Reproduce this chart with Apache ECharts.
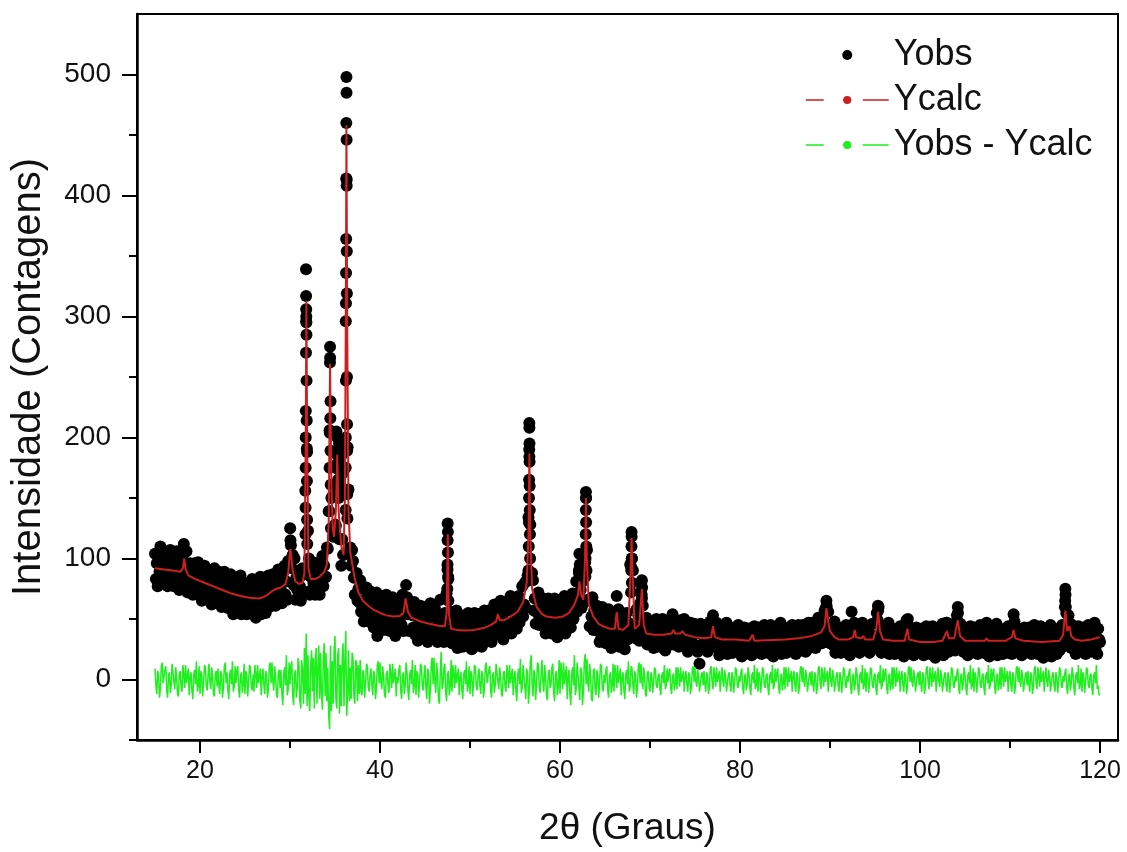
<!DOCTYPE html>
<html><head><meta charset="utf-8">
<script src="https://cdn.jsdelivr.net/npm/echarts@6/dist/echarts.min.js"></script>
<style>html,body{margin:0;padding:0;background:#fff}#c{width:1127px;height:852px}</style>
</head><body><div id="c"></div>
<script>
const FONT = '"Liberation Sans", Arial, sans-serif';
const xTickMajor = [20, 40, 60, 80, 100, 120];
const xTickMinor = [30, 50, 70, 90, 110];
const yTickMajor = [0, 100, 200, 300, 400, 500];
const yTickMinor = [-50, 50, 150, 250, 350, 450];

// Yobs: scan from 15° in 0.1° steps
const yobsStart = 15, yobsStep = 0.1;
const yobs = [
104,83,96,77,100,89,110,81,98,87,
84,105,89,100,77,96,81,107,87,93,
93,77,101,84,106,81,91,74,99,88,
79,99,112,105,83,106,72,90,79,96,
93,82,70,90,96,73,86,76,97,70,
76,91,65,83,72,94,77,87,66,91,
90,69,81,62,85,73,92,65,82,71,
68,89,73,83,60,79,64,89,69,74,
75,59,82,65,87,62,71,54,80,69,
57,76,65,82,61,86,54,73,62,79,
77,66,54,74,80,58,71,61,83,56,
62,77,51,69,58,81,64,85,54,80,
80,59,73,55,78,67,86,60,78,67,
66,87,72,83,61,80,65,91,72,78,
79,63,88,71,94,70,81,66,98,94,
93,111,92,103,78,100,66,84,74,90,
88,77,65,86,92,73,91,156,296,188,
123,100,70,85,74,97,80,91,70,96,
96,75,89,70,94,83,102,77,94,84,
85,109,108,139,206,230,150,151,118,120,
128,127,186,174,156,116,116,94,116,103,
103,157,296,413,192,157,105,109,94,107,
98,84,70,85,88,65,75,64,82,56,
61,75,48,66,54,76,59,69,48,73,
72,50,62,43,65,54,72,36,62,51,
48,69,53,64,41,59,44,70,50,56,
56,40,64,47,68,43,53,36,62,51,
40,59,48,66,45,70,40,63,59,78,
68,54,40,58,63,40,53,43,64,37,
43,58,32,50,39,61,45,55,34,60,
58,37,50,31,54,43,63,35,52,41,
38,59,43,54,31,50,34,66,40,46,
47,31,55,39,71,91,83,34,56,41,
30,49,38,54,33,57,26,45,35,52,
50,39,27,47,53,31,44,34,55,29,
36,51,25,43,32,55,38,49,28,54,
54,33,46,27,50,39,57,31,49,38,
36,57,41,53,31,49,36,62,43,50,
53,41,62,43,65,40,50,33,59,48,
38,57,47,64,44,69,38,57,48,65,
64,53,42,62,69,47,62,53,77,52,
62,80,59,82,86,134,184,128,82,88,
82,57,67,46,68,55,72,45,61,49,
47,67,51,61,38,57,42,67,47,53,
54,38,62,45,67,42,52,35,61,50,
39,58,48,65,44,69,38,57,48,65,
64,54,43,64,71,50,65,57,81,56,
65,88,63,74,59,81,63,88,97,150,
107,66,66,44,65,52,68,41,57,44,
41,61,44,55,31,50,35,60,40,45,
46,30,54,37,58,33,43,26,52,41,
30,49,44,69,37,58,27,45,35,52,
50,39,25,48,55,33,47,38,95,93,
100,90,42,44,34,58,41,53,32,63,
72,67,61,32,48,36,51,29,42,33,
31,48,35,44,26,41,29,50,34,39,
39,27,46,32,50,30,38,24,45,36,
28,44,35,48,33,54,29,43,33,47,
45,36,27,43,49,31,42,33,50,27,
33,44,23,38,29,47,34,42,25,46,
45,28,38,23,41,13,46,25,39,30,
28,45,32,41,23,39,27,48,32,40,
46,30,44,29,47,26,34,20,41,32,
23,39,30,43,27,47,21,36,28,42,
40,31,22,38,43,25,35,27,45,23,
28,40,19,34,25,43,30,38,22,42,
42,25,35,20,43,30,44,23,37,28,
26,43,30,39,21,36,24,45,29,34,
34,22,41,27,45,25,33,19,40,31,
23,39,30,43,27,47,21,36,28,42,
40,31,22,38,43,25,36,27,45,23,
30,42,21,36,27,45,33,41,24,44,
45,28,38,23,41,33,47,26,40,31,
30,47,35,44,26,42,30,51,35,41,
41,30,50,37,57,45,60,40,56,43,
30,44,33,45,28,48,22,37,28,42,
40,31,22,38,43,25,35,27,45,23,
29,41,20,35,56,45,33,47,26,45,
45,27,37,22,40,32,47,27,39,29,
27,44,31,40,22,37,25,46,30,35,
36,28,55,49,60,36,39,22,42,32,
23,39,30,43,27,47,21,36,28,42,
39,30,21,37,42,24,34,26,44,22,
28,40,19,35,27,49,40,44,23,43,
42,25,35,20,38,30,43,23,37,27,
25,42,29,38,20,35,23,44,28,33,
33,21,40,26,44,24,32,18,39,30,
22,38,29,42,26,46,20,37,31,47,
47,35,23,39,44,26,36,28,46,24,
36,53,36,45,30,46,32,39,23,42,
42,25,35,20,38,30,44,23,37,28,
26,43,30,39,21,36,24,45,29,34,
34,22,41,27,47,25,33,19,40,31,
22,38,29,42,26,46,20,35,27,41,
39,30,21,37,42,24,34,26,44,22,
29,41,21,37,34,48,32,39,23,42,
42,25,35,20,38,30,43,23,36,27,
26,43,30,39,21,36,24,45,29,34,
33,21,40,26,44,24,32,18,39,30,
21,37,28,41,25,45,19,34,26,40,
39,30,21,37,42,24,34,27,45,27,
41,60,42,45,34,53,42,46,26,45,
44,26,36,21,39,30,44,23,37,28,
26,43,30,39,21,36,24,45,29,34,
35,23,42,28,47,26,35,21,42,33,
31
];

// extra Yobs points stacked along the sharp reflections
const yobsPeakX = [
30.02,30.05,
31.78,31.79,31.80,31.81,31.82,31.83,31.78,31.84,31.76,31.86,31.75,31.87,31.74,31.88,31.73,31.90,31.72,31.92,
34.45,34.46,34.44,34.48,34.42,34.50,34.40,34.52,34.38,34.55,
35.15,35.25,35.30,35.20,35.35,35.10,35.40,35.45,35.50,35.60,35.70,35.80,35.90,35.55,
36.27,36.28,36.26,36.29,36.25,36.30,36.24,36.31,36.23,36.32,36.22,36.33,36.21,36.34,36.20,36.35,36.19,36.36,36.18,36.38,
47.52,47.54,47.51,47.55,47.50,47.57,47.48,47.60,
56.59,56.60,56.61,56.58,56.62,56.57,56.63,56.56,56.64,56.55,56.66,56.53,56.68,56.50,
62.15,62.20,62.10,
62.88,62.89,62.87,62.90,62.86,62.92,62.84,62.94,62.82,
67.95,67.96,67.94,67.97,67.92,67.99,67.90,
69.10,69.12,69.08,
77.00,77.02,
89.60,89.62,89.58,
95.33,95.35,
98.65,
104.20,104.22,
110.40,
116.15,116.17,116.13,116.20,116.25
];
const yobsPeakY = [
125,115,
339,317,306,300,295,285,270,247,222,214,200,191,175,164,142,132,120,112,
275,266,262,216,204,189,175,161,139,125,
205,200,189,178,165,160,150,195,180,198,185,170,155,160,
498,485,460,446,414,408,364,354,336,319,311,250,247,211,200,189,175,153,140,133,
129,122,115,105,95,85,75,65,
212,208,195,190,180,165,160,150,140,130,120,110,100,90,
104,95,90,
155,150,140,130,120,110,100,90,85,
122,118,110,100,90,80,72,
82,76,70,
53,48,
65,61,57,
61,57,
50,
60,55,
54,
75,70,65,60,55
];

// Ycalc: refined profile
const ycalcX = [15.0,16.0,17.0,17.8,18.1,18.25,18.4,18.7,19.5,20.5,21.5,22.5,23.5,24.5,25.5,26.5,27.0,27.5,28.0,28.5,29.0,29.5,29.8,30.0,30.05,30.3,30.6,31.0,31.4,31.6,31.75,31.82,31.9,32.05,32.3,32.8,33.3,33.8,34.1,34.3,34.45,34.6,34.75,34.9,35.1,35.25,35.4,35.7,35.95,36.1,36.2,36.27,36.35,36.5,36.7,36.9,37.2,37.6,38.1,38.7,39.2,40.0,40.7,41.5,42.2,42.6,42.85,43.1,43.5,44.5,45.5,46.5,47.2,47.4,47.53,47.65,47.9,48.5,49.5,50.5,51.5,52.3,52.9,53.1,53.3,53.8,54.5,55.3,55.9,56.3,56.5,56.6,56.7,56.9,57.4,58.0,58.5,59.5,60.3,61.0,61.6,62.0,62.15,62.35,62.6,62.78,62.88,62.98,63.2,63.7,64.3,64.8,65.5,66.1,66.3,66.5,67.0,67.6,67.8,67.95,68.1,68.3,68.8,69.1,69.3,69.6,70.5,71.5,72.4,72.6,72.8,73.4,73.6,73.9,75.0,76.0,76.8,77.0,77.2,78.0,79.5,81.0,81.4,81.6,83.0,85.0,86.5,88.0,89.0,89.4,89.6,89.8,90.0,90.5,91.0,92.0,92.6,92.75,92.9,93.5,93.7,93.9,94.8,95.15,95.35,95.55,95.9,97.0,98.3,98.6,98.8,100.0,101.5,102.5,102.8,103.0,103.2,103.8,104.2,104.45,105.0,107.2,107.4,107.6,109.5,110.2,110.4,110.6,111.5,113.5,115.5,115.9,116.15,116.35,116.6,116.8,117.2,118.0,119.0,120.0];
const ycalcY = [92,91,90,89,92,100,91,86,83,80,77,74,71,69,67.5,67,68,70,73,75,76,79,88,106,108,90,81,79,80,88,200,313,200,92,83,83,85,89,95,130,261,160,125,118,140,186,140,110,103,150,300,458,300,140,105,96,83,72,65,61,58,55,53,52,52.5,55,67,56,51,48,46,44.5,44,55,120,55,42,41,40.5,41,42.5,45,48,54,49,49,52,56,64,80,120,187,120,75,60,54,52,51,52,55,62,70,81,70,66,100,150,100,62,52,46,44,42,42,56,42,41,45,80,117,80,42,45,75,45,38,37,37,38,41,38,38,40,37,35,34,35,44,35,33,33,32,37,32,32.5,33,34,36,39,44,59,48,40,35,33,33,35,41,35,34,36,33,33,42,56,40,33,32,32,42,33,31,31,32,37,40,34,34,49,36,32,32,34,32,32,35,41,34,32,31,32,37,57,40,44,36,33,32,33,35];

// Yobs - Ycalc: 0.1° steps from 15°
const diffStart = 15, diffStep = 0.1;
const diff = [
9,-5,-12,7,4,-15,-7,11,14,-3,
-3,8,11,-9,-15,3,6,-11,-5,13,
13,-2,-8,10,2,-12,-14,5,7,-6,
-10,12,5,-7,12,-3,-4,9,-13,2,
6,-9,-16,4,8,-4,15,-10,-6,11,
-12,7,3,-14,-2,12,10,-6,-9,4,
13,-2,-8,10,2,-12,-14,5,7,-6,
9,-5,-12,7,4,-15,-7,11,14,-3,
6,-9,-16,4,8,-4,15,-10,-6,11,
-3,8,11,-9,-15,3,6,-11,-5,13,
-12,7,3,-14,-2,12,10,-6,-9,4,
-10,12,5,-7,12,-3,-4,9,-13,2,
9,-5,-12,7,4,-15,-7,11,14,-3,
14,-2,-9,11,2,-13,-15,6,8,-7,
8,-12,-21,5,10,-5,20,-13,-8,14,
-4,11,15,-13,-21,4,8,-15,-7,18,
12,-18,-24,16,8,-20,26,-12,38,-22,
20,-15,-26,12,24,-10,18,-24,14,26,
-20,10,28,-16,22,-12,-25,18,30,-14,
22,-18,10,-30,-41,28,-26,15,-20,24,
36,-16,-24,20,26,-28,12,-22,18,30,
-22,16,40,-30,-12,24,-18,10,-16,22,
18,-14,-20,16,14,-18,12,-12,16,-10,
-13,8,3,-15,-2,13,11,-7,-10,4,
9,-5,-13,7,4,-16,-7,12,15,-3,
14,-2,-8,11,2,-13,-15,5,7,-6,
-11,13,5,-7,13,-3,-4,9,-14,2,
-3,8,12,-9,-16,3,6,-12,-5,14,
6,-9,-17,4,8,-4,16,-11,-6,12,
-13,7,3,-15,-2,13,11,-6,-9,4,
12,-7,-16,9,5,-20,-9,14,18,-4,
18,-3,-11,14,3,-17,-20,7,23,-8,
-4,10,13,-11,-18,4,7,-13,-6,16,
-10,12,5,-7,12,-3,-4,9,-13,2,
6,-9,-16,4,8,-4,15,-10,-6,11,
-12,7,3,-14,-2,12,10,-6,-9,4,
9,-5,-12,7,4,-15,-7,11,14,-3,
-3,8,11,-9,-15,3,6,-11,-5,13,
13,-2,-8,10,2,-12,-14,5,7,-6,
-10,12,5,-7,12,-3,-4,9,-13,2,
7,-10,-18,4,9,-4,17,-11,-7,12,
12,-7,-16,9,5,-20,-9,14,20,-4,
-14,8,4,-17,-2,14,12,-7,-11,5,
16,-2,-10,12,2,-14,-17,6,8,-7,
-4,10,13,-11,-18,4,7,-13,-6,16,
-12,14,6,-8,14,-4,-5,11,-16,2,
8,-12,-21,5,10,-5,20,-13,-8,14,
13,-7,-17,10,6,-21,-10,15,21,-4,
17,-3,-10,13,3,-16,-18,7,9,-8,
-13,8,3,-15,-2,13,11,-7,-10,4,
-3,8,11,-9,-15,3,6,-11,-5,13,
-10,12,5,-7,12,-3,-4,9,-13,2,
6,-9,-16,4,8,-4,15,-10,-6,11,
9,-5,-12,7,4,-15,-7,11,14,-3,
13,-2,-8,10,2,-12,-14,5,7,-6,
-10,6,2,-11,-2,10,8,-5,-7,3,
5,-7,-13,3,6,-3,12,-8,-5,9,
-2,6,9,-7,-12,2,5,-9,-4,10,
-8,10,4,-6,10,-2,-3,7,-10,2,
7,-4,-10,6,3,-12,-6,9,11,-2,
10,-2,-6,8,2,-10,-11,4,6,-5,
7,-4,-10,6,3,-12,-6,9,11,-2,
-8,10,4,-6,10,-2,-3,7,-10,2,
10,-2,-6,8,2,-10,-11,4,6,-5,
-10,6,2,-11,-2,10,8,-5,-7,3,
-2,6,9,-7,-12,2,5,-9,-4,10,
5,-7,-13,3,6,-3,12,-8,-5,9,
-10,6,2,-11,-2,10,8,-5,-7,3,
5,-7,-13,3,6,-3,12,-8,-5,9,
-2,6,9,-7,-12,2,5,-9,-4,10,
-8,10,4,-6,10,-2,-3,7,-10,2,
7,-4,-10,6,3,-12,-6,9,11,-2,
10,-2,-6,8,2,-10,-11,4,6,-5,
7,-4,-10,6,3,-12,-6,9,11,-2,
-8,10,4,-6,10,-2,-3,7,-10,2,
10,-2,-6,8,2,-10,-11,4,6,-5,
-10,6,2,-11,-2,10,8,-5,-7,3,
-2,6,9,-7,-12,2,5,-9,-4,10,
5,-7,-13,3,6,-3,12,-8,-5,9,
-10,6,2,-11,-2,10,8,-5,-7,3,
5,-7,-13,3,6,-3,12,-8,-5,9,
-2,6,9,-7,-12,2,5,-9,-4,10,
-8,10,4,-6,10,-2,-3,7,-10,2,
7,-4,-10,6,3,-12,-6,9,11,-2,
10,-2,-6,8,2,-10,-11,4,6,-5,
7,-4,-10,6,3,-12,-6,9,11,-2,
-8,10,4,-6,10,-2,-3,7,-10,2,
10,-2,-6,8,2,-10,-11,4,6,-5,
-10,6,2,-11,-2,10,8,-5,-7,3,
-2,6,9,-7,-12,2,5,-9,-4,10,
5,-7,-13,3,6,-3,12,-8,-5,9,
-10,6,2,-11,-2,10,8,-5,-7,3,
5,-7,-13,3,6,-3,12,-8,-5,9,
-2,6,9,-7,-12,2,5,-9,-4,10,
-8,10,4,-6,10,-2,-3,7,-10,2,
7,-4,-10,6,3,-12,-6,9,11,-2,
10,-2,-6,8,2,-10,-11,4,6,-5,
7,-4,-10,6,3,-12,-6,9,11,-2,
-8,10,4,-6,10,-2,-3,7,-10,2,
10,-2,-6,8,2,-10,-11,4,6,-5,
-10,6,2,-11,-2,10,8,-5,-7,3,
-2,6,9,-7,-12,2,5,-9,-4,10,
5,-7,-13,3,6,-3,12,-8,-5,9,
-10,6,2,-11,-2,10,8,-5,-7,3,
5,-7,-13,3,6,-3,12,-8,-5,-13,
-12
];

const obsData = yobs.map((v, i) => [+(yobsStart + i * yobsStep).toFixed(2), v])
  .concat(yobsPeakX.map((x, i) => [x, yobsPeakY[i]]));
const calcData = ycalcX.map((x, i) => [x, ycalcY[i]]);
const diffData = diff.map((v, i) => [+(diffStart + i * diffStep).toFixed(2), v]);

const RED = '#cc1f1f', GREEN = '#1ef01e';
const chart = echarts.init(document.getElementById('c'));
chart.setOption({
  animation: false,
  backgroundColor: '#fff',
  grid: { left: 137, right: 9, top: 14, bottom: 112, show: true, borderColor: '#000', borderWidth: 2, backgroundColor: 'transparent' },
  legend: {
    orient: 'vertical', left: 805, top: 35, padding: 0, itemWidth: 83, itemHeight: 10, itemGap: 5,
    textStyle: { fontSize: 36, fontFamily: FONT, color: '#111', lineHeight: 40 },
    data: [
      { name: 'Yobs', icon: 'circle', itemStyle: { color: '#000', opacity: 1 } },
      { name: 'Ycalc', lineStyle: { type: [18, 19, 4, 16, 30], width: 1.5, color: RED } },
      { name: 'Yobs - Ycalc', lineStyle: { type: [18, 19, 4, 16, 30], width: 1.5, color: GREEN } }
    ]
  },
  xAxis: [
    { type: 'value', min: 13, max: 122, position: 'bottom',
      name: '2θ (Graus)', nameLocation: 'middle', nameGap: 70,
      nameTextStyle: { fontSize: 37, fontFamily: FONT, color: '#111' },
      splitLine: { show: false },
      axisLine: { onZero: false, lineStyle: { color: '#000', width: 2.5 } },
      axisTick: { customValues: xTickMajor, length: 13, lineStyle: { color: '#000', width: 2 } },
      axisLabel: { customValues: xTickMajor, fontSize: 25, fontFamily: FONT, color: '#111', margin: 19 } },
    { type: 'value', min: 13, max: 122, position: 'bottom', gridIndex: 0,
      splitLine: { show: false }, axisLine: { show: false, onZero: false },
      axisTick: { customValues: xTickMinor, length: 8, lineStyle: { color: '#000', width: 2 } },
      axisLabel: { show: false } }
  ],
  yAxis: [
    { type: 'value', min: -50, max: 550, position: 'left',
      name: 'Intensidade (Contagens)', nameLocation: 'middle', nameGap: 88, nameRotate: 90,
      nameTextStyle: { fontSize: 40, fontFamily: FONT, color: '#111' },
      splitLine: { show: false },
      axisLine: { onZero: false, lineStyle: { color: '#000', width: 2.5 } },
      axisTick: { customValues: yTickMajor, length: 15, lineStyle: { color: '#000', width: 2 } },
      axisLabel: { customValues: yTickMajor, fontSize: 28, fontFamily: FONT, color: '#111', margin: 26 } },
    { type: 'value', min: -50, max: 550, position: 'left', gridIndex: 0,
      splitLine: { show: false }, axisLine: { show: false, onZero: false },
      axisTick: { customValues: yTickMinor, length: 8, lineStyle: { color: '#000', width: 2 } },
      axisLabel: { show: false } }
  ],
  series: [
    { type: 'scatter', name: 'Yobs', data: obsData, symbol: 'circle', symbolSize: 12,
      itemStyle: { color: '#000', opacity: 1 }, z: 1, silent: true },
    { type: 'line', name: 'Ycalc', data: calcData, symbol: 'none', showSymbol: false,
      lineStyle: { color: RED, width: 2 }, itemStyle: { color: RED }, z: 3, silent: true },
    { type: 'line', name: 'Yobs - Ycalc', data: diffData, symbol: 'none', showSymbol: false,
      lineStyle: { color: GREEN, width: 1.5 }, itemStyle: { color: GREEN }, z: 2, silent: true }
  ]
});
</script>
</body></html>
